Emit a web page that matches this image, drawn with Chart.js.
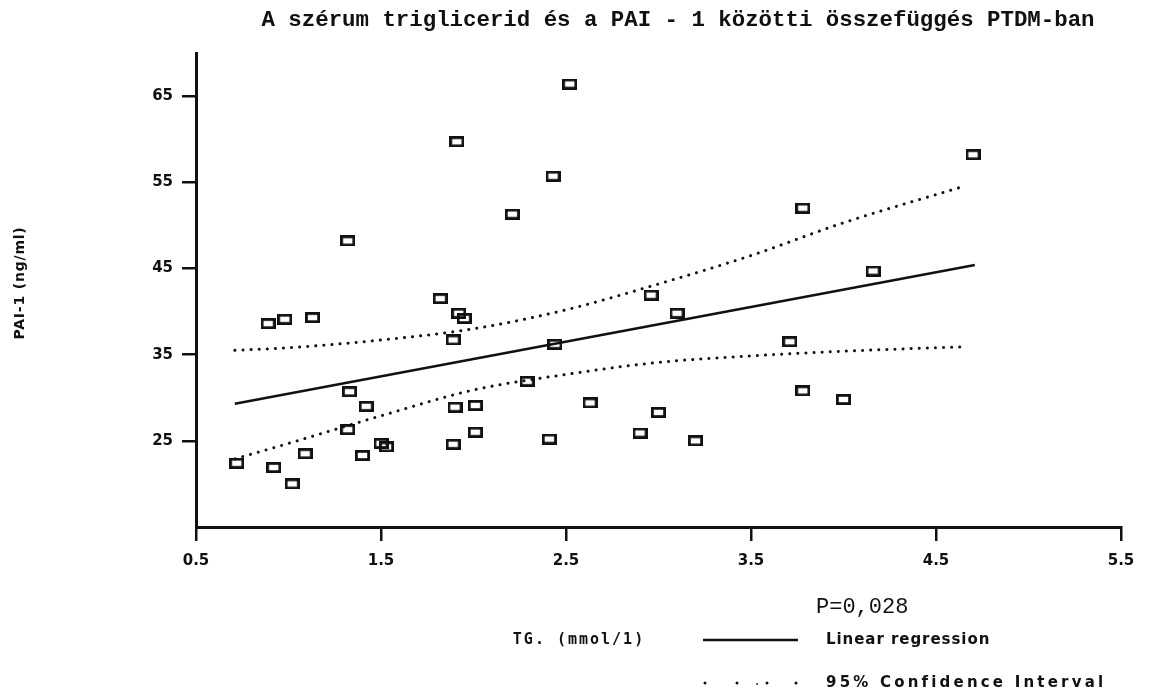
<!DOCTYPE html>
<html><head><meta charset="utf-8">
<script src="https://cdn.jsdelivr.net/npm/chart.js@4.4.1/dist/chart.umd.min.js"></script>
<style>html,body{margin:0;padding:0;background:#fff;}#wrap{width:1149px;height:693px;position:relative;}</style>
</head><body><div id="wrap"><canvas id="c" width="1149" height="693"></canvas></div>
<script>
// ---- data ----
const chartTitle = "A szérum triglicerid és a PAI - 1 közötti összefüggés PTDM-ban";
const xAxisTitle = "TG. (mmol/1)";
const yAxisTitle = "PAI-1 (ng/ml)";
const pValueText = "P=0,028";
const legendLabels = ["Linear regression", "95% Confidence Interval"];
const xTicks = [0.5, 1.5, 2.5, 3.5, 4.5, 5.5];
const yTicks = [25, 35, 45, 55, 65];
const xRange = [0.5, 5.5];
const yRange = [15, 70];
const tgValues  = [0.72,0.89,0.98,1.13,0.92,1.02,1.09,1.33,1.42,1.32,1.40,1.50,1.53,1.82,1.92,1.95,1.89,1.90,2.01,2.01,1.89,2.29,2.44,2.41,2.63,2.96,3.10,3.71,3.00,2.90,3.20,3.78,4.00,1.32,1.91,2.21,2.43,2.52,4.70,3.78,4.16];
const paiValues = [22.4,38.6,39.1,39.3,21.9,20.0,23.5,30.7,29.0,26.3,23.3,24.7,24.3,41.5,39.8,39.2,36.7,28.9,29.1,26.0,24.6,31.9,36.2,25.2,29.4,41.9,39.8,36.5,28.3,25.9,25.0,30.8,29.8,48.2,59.7,51.3,55.7,66.4,58.2,52.0,44.7];
const regX = [0.71, 4.71];
const regY = [29.3, 45.4];
const ciX     = [0.71, 1.0, 1.5, 2.0, 2.5, 3.0, 3.5, 4.0, 4.63];
const ciUpper = [35.5, 35.8, 36.7, 38.0, 40.2, 43.2, 46.5, 50.3, 54.4];
const ciLower = [22.9, 24.7, 27.9, 30.9, 32.7, 34.1, 34.85, 35.4, 35.9];

// ---- marker: hollow rectangle ----
const marker = document.createElement('canvas');
marker.width = 15; marker.height = 11;
(function(){const m = marker.getContext('2d'); m.strokeStyle = '#111'; m.lineWidth = 2.8; m.strokeRect(1.4,1.4,12.2,8.2);})();

const pts = tgValues.map((x,i)=>({x:x, y:paiValues[i]}));
const reg = regX.map((x,i)=>({x:x, y:regY[i]}));
const up = ciX.map((x,i)=>({x:x, y:ciUpper[i]}));
const lo = ciX.map((x,i)=>({x:x, y:ciLower[i]}));

const MONO = '"Liberation Mono", "Courier New", monospace';
const PLOT = '"DejaVu Sans Mono", monospace';
const SANS = '"DejaVu Sans", sans-serif';

const textPlugin = {
  id: 'texts',
  afterDraw(chart){
    const ctx = chart.ctx;
    ctx.save();
    ctx.fillStyle = '#111';
    ctx.textBaseline = 'middle';
    // title
    ctx.font = 'bold 22.4px ' + MONO;
    ctx.textAlign = 'center';
    ctx.fillText(chartTitle, 678, 20);
    // y title
    ctx.save();
    ctx.translate(20, 283);
    ctx.rotate(-Math.PI/2);
    ctx.font = 'bold 14px ' + SANS;
    ctx.letterSpacing = '0.8px';
    ctx.textAlign = 'center';
    ctx.fillText(yAxisTitle, 0, 0);
    ctx.restore();
    // x title
    ctx.font = 'bold 15px ' + PLOT;
    ctx.letterSpacing = '2px';
    ctx.textAlign = 'center';
    ctx.fillText(xAxisTitle, 579, 640);
    // legend
    ctx.textAlign = 'left';
    ctx.font = 'bold 15px ' + SANS;
    ctx.letterSpacing = '0.95px';
    ctx.fillText(legendLabels[0], 826, 640);
    ctx.letterSpacing = '3.2px';
    ctx.fillText(legendLabels[1], 826, 683);
    ctx.letterSpacing = '0px';
    // p value
    ctx.font = '22px ' + MONO;
    ctx.fillText(pValueText, 816, 607);
    // legend samples
    ctx.strokeStyle = '#111';
    ctx.lineWidth = 2.5;
    ctx.beginPath(); ctx.moveTo(703, 640); ctx.lineTo(798, 640); ctx.stroke();
    [705, 737, 767, 796].forEach(x=>{ctx.beginPath(); ctx.arc(x, 683, 1.5, 0, Math.PI*2); ctx.fill();});
    ctx.beginPath(); ctx.arc(757, 684, 0.9, 0, Math.PI*2); ctx.fill();
    ctx.restore();
  }
};

new Chart(document.getElementById('c'), {
  type: 'scatter',
  data: { datasets: [
    { label: 'points', data: pts, pointStyle: marker, pointRadius: 7, showLine: false, order: 1 },
    { label: legendLabels[0], data: reg, showLine: true, borderColor: '#111', borderWidth: 2.6, pointRadius: 0, order: 2 },
    { label: legendLabels[1], data: up, showLine: true, borderColor: '#111', borderWidth: 3, borderDash: [0.1, 8], borderCapStyle: 'round', cubicInterpolationMode: 'monotone', pointRadius: 0, order: 3 },
    { label: 'lower', data: lo, showLine: true, borderColor: '#111', borderWidth: 3, borderDash: [0.1, 8], borderCapStyle: 'round', cubicInterpolationMode: 'monotone', pointRadius: 0, order: 3 }
  ]},
  options: {
    responsive: false, animation: false, devicePixelRatio: 1,
    layout: { padding: { left: 0, right: 28, top: 53, bottom: 0 } },
    plugins: { legend: { display: false }, title: { display: false }, tooltip: { enabled: false } },
    scales: {
      x: {
        type: 'linear', min: xRange[0], max: xRange[1],
        afterBuildTicks: s => { s.ticks = xTicks.map(v => ({ value: v })); },
        afterFit: s => { s.height = 166; },
        grid: { drawOnChartArea: false, drawTicks: true, tickLength: 14, color: '#111', lineWidth: 2.5 },
        border: { display: true, color: '#111', width: 3 },
        ticks: { color: '#111', padding: 11, maxRotation: 0, font: { family: SANS, size: 15, weight: 'bold' }, callback: v => v.toFixed(1) }
      },
      y: {
        type: 'linear', min: yRange[0], max: yRange[1],
        afterBuildTicks: s => { s.ticks = yTicks.map(v => ({ value: v })); },
        afterFit: s => { s.width = 196; },
        grid: { drawOnChartArea: false, drawTicks: true, tickLength: 14, color: '#111', lineWidth: 2.5 },
        border: { display: true, color: '#111', width: 3 },
        ticks: { color: '#111', padding: 9, font: { family: SANS, size: 15, weight: 'bold' }, callback: v => String(v) }
      }
    }
  },
  plugins: [textPlugin]
});
</script></body></html>
